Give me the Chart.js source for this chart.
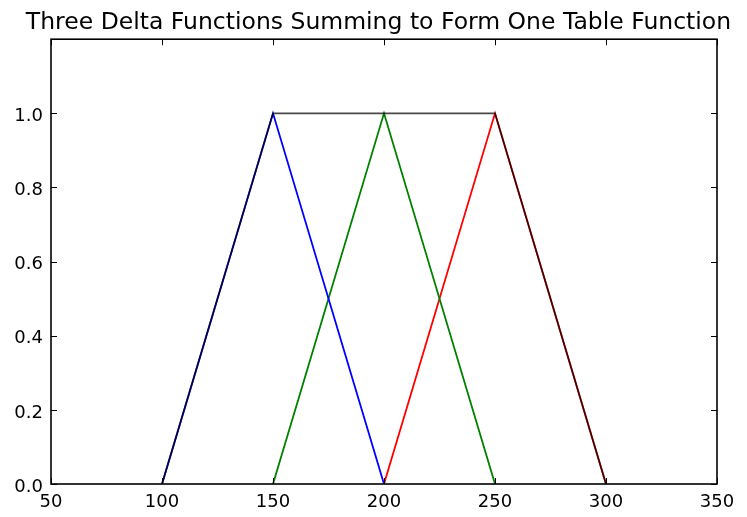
<!DOCTYPE html>
<html>
<head>
<meta charset="utf-8">
<script src="https://cdn.jsdelivr.net/npm/chart.js@4"></script>
<style>
  html, body { margin:0; padding:0; background:#fff; }
  #wrap { width:747px; height:517px; }
</style>
</head>
<body>
<div id="wrap"><canvas id="c" width="747" height="517"></canvas></div>
<script>
/* ===== data ===== */
const titleText = "Three Delta Functions Summing to Form One Table Function";
const xTicks = [50, 100, 150, 200, 250, 300, 350];
const yTicks = [0, 0.2, 0.4, 0.6, 0.8, 1.0];

const blueX  = [100, 150, 200];
const blueY  = [0, 1, 0];
const greenX = [150, 200, 250];
const greenY = [0, 1, 0];
const redX   = [200, 250, 300];
const redY   = [0, 1, 0];
const sumX   = [100, 150, 200, 250, 300];
const sumY   = [0, 1, 1, 1, 0];

const pts = (xs, ys) => xs.map((x, i) => ({ x: x, y: ys[i] }));

/* ===== inward ticks on all four sides (matplotlib classic look) ===== */
const innerTicks = {
  id: "innerTicks",
  afterDraw(chart) {
    const { ctx, chartArea: a, scales } = chart;
    ctx.save();
    ctx.strokeStyle = "#000";
    ctx.lineWidth = 1;
    ctx.beginPath();
    xTicks.forEach(v => {
      const px = Math.round(scales.x.getPixelForValue(v)) + 0.5;
      ctx.moveTo(px, a.bottom); ctx.lineTo(px, a.bottom - 6);
      ctx.moveTo(px, a.top);    ctx.lineTo(px, a.top + 6);
    });
    yTicks.forEach(v => {
      const py = Math.round(scales.y.getPixelForValue(v)) + 0.5;
      ctx.moveTo(a.left, py);  ctx.lineTo(a.left + 6, py);
      ctx.moveTo(a.right, py); ctx.lineTo(a.right - 6, py);
    });
    ctx.stroke();
    ctx.lineWidth = 1.6;
    ctx.strokeRect(a.left, a.top, a.right - a.left, a.bottom - a.top);
    ctx.restore();
  }
};

const line = (data, color) => ({
  data: data,
  showLine: true,
  borderColor: color,
  borderWidth: 1.8,
  pointRadius: 0,
  tension: 0,
  fill: false
});

new Chart(document.getElementById("c"), {
  type: "scatter",
  data: {
    datasets: [
      line(pts(sumX, sumY), "rgba(0,0,0,0.72)"),
      line(pts(blueX, blueY), "#0000ff"),
      line(pts(greenX, greenY), "#008000"),
      line(pts(redX, redY), "#ff0000")
    ]
  },
  options: {
    responsive: false,
    animation: false,
    layout: { padding: { left: 10, right: 0, top: 0, bottom: 0 } },
    plugins: {
      legend: { display: false },
      tooltip: { enabled: false },
      title: {
        display: true,
        text: titleText,
        color: "#000",
        font: { family: "DejaVu Sans", size: 23.5, weight: "normal", lineHeight: 1.2 },
        padding: { top: 9, bottom: 2 }
      }
    },
    scales: {
      x: {
        type: "linear",
        min: 50, max: 350,
        afterBuildTicks: s => { s.ticks = xTicks.map(v => ({ value: v })); },
        afterFit: s => { s.height = 33; },
        grid: { display: false, drawTicks: false },
        border: { display: false },
        ticks: {
          color: "#000",
          padding: 8,
          font: { family: "DejaVu Sans", size: 18 },
          callback: v => String(v)
        }
      },
      y: {
        type: "linear",
        min: 0, max: 1.2,
        afterBuildTicks: s => { s.ticks = yTicks.map(v => ({ value: v })); },
        afterFit: s => { s.width = 41; },
        grid: { display: false, drawTicks: false },
        border: { display: false },
        ticks: {
          color: "#000",
          padding: 8,
          labelOffset: 3,
          font: { family: "DejaVu Sans", size: 18 },
          callback: v => Number(v).toFixed(1)
        }
      },
      yRight: {
        type: "linear",
        position: "right",
        min: 0, max: 1.2,
        afterFit: s => { s.width = 30; },
        grid: { display: false, drawTicks: false },
        border: { display: false },
        ticks: { display: false }
      }
    }
  },
  plugins: [innerTicks]
});
</script>
</body>
</html>
